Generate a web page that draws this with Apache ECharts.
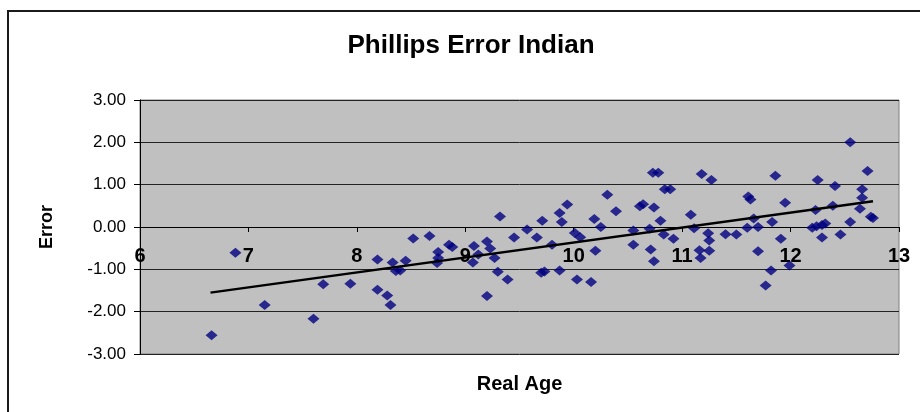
<!DOCTYPE html>
<html>
<head>
<meta charset="utf-8">
<script src="https://cdn.jsdelivr.net/npm/echarts@6/dist/echarts.min.js"></script>
<style>
  html, body { margin: 0; padding: 0; background: #fff; }
  #chart { width: 920px; height: 412px; }
</style>
</head>
<body>
<div id="chart"></div>
<script>
// real age (x) and error (y)
const realAge = [
  6.88, 7.69, 7.15, 7.60, 6.66,
  7.94, 8.19, 8.33, 8.36, 8.40, 8.45, 8.19, 8.28, 8.31, 8.52, 8.67, 8.75, 8.74, 8.75,
  8.85, 8.88, 9.08, 9.07, 9.12, 9.20, 9.23, 9.27, 9.30, 9.39, 9.20, 9.32, 9.45, 9.57,
  9.66, 9.71, 9.80, 9.70, 9.73, 9.87, 9.87, 9.89, 9.94, 10.01, 10.06, 10.03, 10.16,
  10.19, 10.25, 10.20, 10.31, 10.39, 10.55, 10.55, 10.61, 10.64, 10.74, 10.70, 10.71,
  10.74, 10.80, 10.73, 10.78, 10.84, 10.89, 10.83, 10.92, 11.08, 11.11, 11.18, 11.27,
  11.24, 11.25, 11.16, 11.17, 11.25,
  11.40, 11.50, 11.60, 11.61, 11.63, 11.66, 11.70, 11.70, 11.83, 11.86, 11.95, 11.91,
  11.82, 11.77, 11.99, 12.20, 12.24, 12.29, 12.32, 12.23, 12.25, 12.29, 12.39, 12.41,
  12.46, 12.55, 12.55, 12.66, 12.66, 12.64, 12.71, 12.74, 12.76
];
const errorVals = [
  -0.61, -1.35, -1.84, -2.17, -2.56,
  -1.34, -0.77, -0.84, -1.04, -1.03, -0.80, -1.48, -1.62, -1.84, -0.27, -0.21, -0.59, -0.85, -0.73,
  -0.42, -0.47, -0.45, -0.84, -0.65, -0.34, -0.51, -0.73, -1.06, -1.24, -1.63, 0.25, -0.25, -0.06,
  -0.25, 0.15, -0.42, -1.08, -1.05, -1.03, 0.33, 0.12, 0.53, -0.14, -0.24, -1.24, -1.30,
  0.19, 0.00, -0.56, 0.76, 0.37, -0.08, -0.42, 0.49, 0.54, 0.46, -0.04, -0.53,
  -0.81, 0.15, 1.28, 1.28, 0.89, 0.89, -0.18, -0.28, 0.29, -0.03, 1.25, 1.11,
  -0.15, -0.32, -0.55, -0.73, -0.56,
  -0.17, -0.18, -0.02, 0.72, 0.65, 0.20, 0.00, -0.57, 0.12, 1.21, 0.57, -0.28,
  -1.03, -1.38, -0.91, -0.02, 0.02, 0.05, 0.08, 0.40, 1.11, -0.25, 0.50, 0.97,
  -0.18, 2.00, 0.12, 0.89, 0.69, 0.43, 1.32, 0.24, 0.21
];
// linear trend line end points
const trendX = [6.65, 12.76];
const trendY = [-1.55, 0.61];

const yTicks = [-3, -2, -1, 0, 1, 2, 3];

const chart = echarts.init(document.getElementById("chart"));
const font = "Arial, 'Liberation Sans', sans-serif";

// plot box: 140..899 x 100..354, zero line of y sits half way down
const PLOT_TOP = 100;
const PLOT_BOTTOM = 58;
const zeroY = PLOT_TOP + (412 - PLOT_TOP - PLOT_BOTTOM) * (yTicks[yTicks.length - 1] / (yTicks[yTicks.length - 1] - yTicks[0]));

chart.setOption({
  animation: false,
  backgroundColor: "#ffffff",
  textStyle: { fontFamily: font },
  title: {
    text: "Phillips Error Indian",
    left: 466,
    top: 28,
    textAlign: "center",
    textStyle: { fontFamily: font, fontWeight: "bold", fontSize: 26, color: "#000" },
  },
  graphic: [
    {
      type: "rect",
      silent: true,
      shape: { x: 8, y: 11, width: 960, height: 460 },
      style: { fill: "none", stroke: "#1a1a1a", lineWidth: 2 },
    },
  ],
  grid: [
    {
      left: 140,
      right: 21,
      top: PLOT_TOP,
      bottom: PLOT_BOTTOM,
      outerBoundsMode: "none",
      show: true,
      backgroundColor: "#c0c0c0",
      borderColor: "#808080",
      borderWidth: 1,
    },
    // thin strip whose bottom edge is the y = 0 line, carries the crossing x axis
    {
      left: 140,
      right: 21,
      top: zeroY - 1,
      height: 1,
      outerBoundsMode: "none",
      show: false,
    },
  ],
  xAxis: [
    {
      gridIndex: 0,
      type: "value",
      min: 6,
      max: 13,
      interval: 1,
      axisLine: { show: false },
      axisTick: { show: false },
      axisLabel: { show: false },
      splitLine: { show: false },
    },
    {
      gridIndex: 1,
      type: "value",
      min: 6,
      max: 13,
      interval: 1,
      position: "bottom",
      name: "Real Age",
      nameLocation: "middle",
      nameGap: 147,
      nameTextStyle: { fontFamily: font, fontWeight: "bold", fontSize: 20, color: "#000" },
      axisLine: { onZero: false, lineStyle: { color: "#000", width: 1 } },
      axisTick: { show: true, length: 5, lineStyle: { color: "#000" } },
      axisLabel: {
        color: "#000",
        fontWeight: "bold",
        fontSize: 20,
        margin: 19,
        showMinLabel: true,
        showMaxLabel: true,
      },
      splitLine: { show: false },
    },
  ],
  yAxis: [
    {
      gridIndex: 0,
      type: "value",
      min: yTicks[0],
      max: yTicks[yTicks.length - 1],
      interval: 1,
      name: "Error",
      nameLocation: "middle",
      nameRotate: 90,
      nameGap: 84,
      nameTextStyle: { fontFamily: font, fontWeight: "bold", fontSize: 18, color: "#000" },
      axisLine: { show: true, onZero: false, lineStyle: { color: "#000", width: 1 } },
      axisTick: { show: true, length: 6, lineStyle: { color: "#000" } },
      axisLabel: {
        color: "#000",
        fontSize: 17,
        margin: 14,
        formatter: (v) => v.toFixed(2),
      },
      splitLine: { show: true, lineStyle: { color: "#222", width: 1 } },
    },
    {
      gridIndex: 1,
      type: "value",
      min: 0,
      max: 1,
      show: false,
    },
  ],
  series: [
    {
      name: "Error",
      type: "scatter",
      xAxisIndex: 0,
      yAxisIndex: 0,
      symbol: "diamond",
      symbolSize: [12, 10],
      itemStyle: { color: "#000080" },
      data: realAge.map((x, i) => [x, errorVals[i]]),
      z: 3,
    },
    {
      name: "Trend",
      type: "line",
      xAxisIndex: 0,
      yAxisIndex: 0,
      showSymbol: false,
      symbol: "none",
      lineStyle: { color: "#000", width: 2.5 },
      data: trendX.map((x, i) => [x, trendY[i]]),
      z: 4,
    },
  ],
});
</script>
</body>
</html>
